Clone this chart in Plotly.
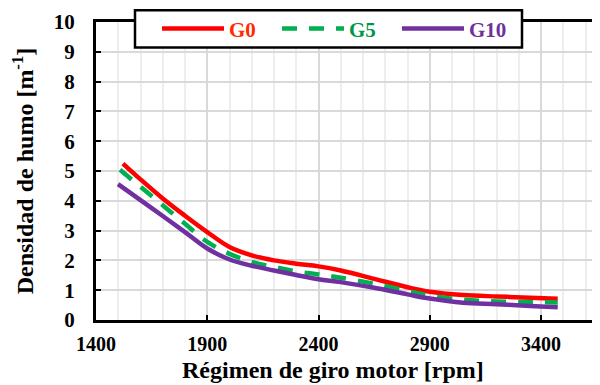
import plotly.graph_objects as go

# engine speed [rpm] and smoke density [m-1]
rpm_g0 = [1521, 1600, 1700, 1800, 1900, 2000, 2100, 2200, 2300, 2400, 2500, 2650, 2800, 2900, 3050, 3200, 3350, 3475]
g0 = [5.25, 4.72, 4.08, 3.50, 2.95, 2.45, 2.17, 2.00, 1.89, 1.80, 1.66, 1.38, 1.10, 0.95, 0.84, 0.79, 0.75, 0.71]

rpm_g5 = [1508, 1600, 1700, 1800, 1900, 2000, 2100, 2200, 2300, 2400, 2500, 2650, 2800, 2900, 3050, 3200, 3350, 3475]
g5 = [5.04, 4.47, 3.85, 3.23, 2.62, 2.22, 1.95, 1.78, 1.63, 1.53, 1.42, 1.22, 0.97, 0.82, 0.68, 0.62, 0.60, 0.59]

rpm_g10 = [1499, 1600, 1700, 1800, 1900, 2000, 2100, 2200, 2300, 2400, 2500, 2650, 2800, 2900, 3050, 3200, 3350, 3475]
g10 = [4.56, 4.02, 3.49, 2.95, 2.40, 2.03, 1.82, 1.66, 1.51, 1.37, 1.27, 1.08, 0.86, 0.72, 0.58, 0.53, 0.47, 0.43]

FONT = 'Liberation Serif'

# the page body has an 8px margin, so the figure is drawn at (8, 8) in the window
OFF = 8
W, H = 600 - OFF, 385 - OFF
# plot area in window pixels: x 96..600, y 17..320
L, T = 96 - OFF, 17 - OFF
B = H - (320 - OFF)
PW, PH = W - L, H - T - B


def px(x):
    # window pixel -> paper x
    return (x - OFF - L) / PW


def py(y):
    # window pixel -> paper y
    return (H - B - (y - OFF)) / PH


fig = go.Figure()
fig.add_trace(go.Scatter(
    x=rpm_g0, y=g0, mode='lines', line_shape='spline',
    name='<span style="color:#FF2A00">G0</span>',
    line=dict(color='#FF0000', width=4.5),
))
fig.add_trace(go.Scatter(
    x=rpm_g5, y=g5, mode='lines', line_shape='spline',
    name='<span style="color:#00964A">G5</span>',
    line=dict(color='#00B050', width=4.5, dash='15px,12px'),
))
fig.add_trace(go.Scatter(
    x=rpm_g10, y=g10, mode='lines', line_shape='spline',
    name='<span style="color:#7030A0">G10</span>',
    line=dict(color='#7030A0', width=4.5),
))

# legend frame (white box covering the top border, as in the original)
fig.add_shape(
    type='rect', xref='paper', yref='paper',
    x0=px(135), x1=px(522), y0=py(43), y1=py(5),
    line=dict(color='black', width=2.5), fillcolor='white', layer='above',
)

# x axis title, centred a bit left of the plot centre like the original
fig.add_annotation(
    text='Régimen de giro motor [rpm]', xref='paper', yref='paper',
    x=px(333), y=py(371), xanchor='center', yanchor='middle', showarrow=False,
    font=dict(family=FONT, size=24, weight='bold', color='black'),
)

fig.update_layout(
    width=W, height=H,
    margin=dict(l=L, r=0, t=T, b=B),
    paper_bgcolor='white', plot_bgcolor='white',
    font=dict(family=FONT, color='black', size=20, weight='bold'),
    showlegend=True,
    legend=dict(
        orientation='h', x=px(157), y=py(24),
        xanchor='left', yanchor='middle',
        bgcolor='rgba(0,0,0,0)', borderwidth=0,
        font=dict(family=FONT, size=21, weight='bold'),
        itemwidth=62, entrywidth=43,
    ),
    xaxis=dict(
        range=[1400, 3665], tick0=1400, dtick=500,
        ticks='inside', ticklen=5, tickwidth=2, tickcolor='black',
        showline=True, linecolor='black', linewidth=3, mirror=True,
        showgrid=True, gridcolor='#D9D9D9', gridwidth=1.5,
        minor=dict(dtick=100, tick0=1400, showgrid=True, gridcolor='#EEEEEE', gridwidth=1.5, ticks=''),
        zeroline=False, automargin=False,
        ticklabelstandoff=4,
        tickfont=dict(family=FONT, size=20, weight='bold'),
    ),
    yaxis=dict(
        range=[0, 10], dtick=1,
        ticks='inside', ticklen=5, tickwidth=2, tickcolor='black',
        showline=True, linecolor='black', linewidth=3,
        showgrid=True, gridcolor='#D9D9D9', gridwidth=1.5,
        zeroline=False, automargin=False,
        ticklabelstandoff=14,
        tickfont=dict(family=FONT, size=21, weight='bold'),
        title=dict(text='Densidad de humo [m<sup>-1</sup>]', standoff=30,
                   font=dict(family=FONT, size=24, weight='bold')),
    ),
)

fig.write_html('out.html')
